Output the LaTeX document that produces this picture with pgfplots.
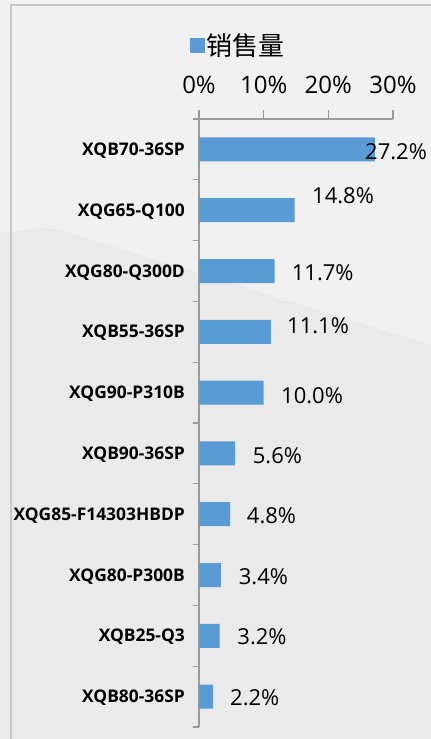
\documentclass[border=0pt]{standalone}
\usepackage{fontspec}
\setmainfont{Open Sans}
\newfontfamily\cjk{Noto Sans CJK SC}
\usepackage{pgfplots}
\pgfplotsset{compat=1.18}
\definecolor{barblue}{HTML}{5B9BD5}
\definecolor{axgray}{HTML}{9A9A9A}
\definecolor{bglight}{HTML}{F1F1F1}
\definecolor{bgdark}{HTML}{EAEAEA}
\definecolor{framegray}{HTML}{C8C8C8}
\begin{document}
\begin{tikzpicture}
% background (axis box lower-left sits at the origin)
\fill[bglight] (-199bp,-12bp) rectangle (232bp,727bp);
\fill[bgdark] (-199bp,494bp) -- (-149bp,500bp) -- (232bp,382bp) -- (232bp,-12bp) -- (-199bp,-12bp) -- cycle;
\draw[framegray,line width=1.2bp] (-188bp,-12bp) -- (-188bp,722bp) -- (232bp,722bp);
\begin{axis}[
  scale only axis,width=194bp,height=608bp,
  xbar,bar width=24bp,
  xmin=0,xmax=30,ymin=-0.5,ymax=9.5,y dir=reverse,
  axis x line*=top,axis y line*=left,
  axis line style={axgray,line width=1.1bp},
  xtick={0,10,20,30},xticklabels={0\%,10\%,20\%,30\%},
  ytick={0,...,9},
  yticklabels={XQB70-36SP,XQG65-Q100,XQG80-Q300D,XQB55-36SP,XQG90-P310B,XQB90-36SP,XQG85-F14303HBDP,XQG80-P300B,XQB25-Q3,XQB80-36SP},
  minor ytick={-0.5,0.5,...,9.5},
  tick align=outside,
  major tick length=9bp,minor tick length=6bp,
  major x tick style={axgray,line width=1.1bp},
  major y tick style={draw=none},
  minor y tick style={axgray,line width=1.1bp},
  xticklabel style={font=\fontsize{24bp}{28bp}\selectfont,anchor=base,yshift=17bp},
  yticklabel style={font=\fontsize{17.4bp}{20bp}\selectfont\bfseries,anchor=base east,yshift=-6bp,inner sep=0pt,xshift=-5bp},
  clip=false,
  legend style={at={(axis description cs:0.2036,1.1217)},anchor=center,draw=none,fill=none,
    font=\cjk\fontsize{26bp}{30bp}\selectfont,inner sep=0pt},
  legend image code/.code={\fill[barblue] (0bp,-7.5bp) rectangle (15bp,7.5bp);},
]
\addplot[fill=barblue,draw=none] coordinates {
(27.2,0) (14.8,1) (11.7,2) (11.1,3) (10.0,4) (5.6,5) (4.8,6) (3.4,7) (3.2,8) (2.2,9)};
\addlegendentry{销售量}
\begin{scope}[every node/.style={anchor=base west,inner sep=0pt,font=\fontsize{22bp}{26bp}\selectfont}]
\node at (axis cs:25.67,0.158) {27.2\%};
\node at (axis cs:17.47,0.882) {14.8\%};
\node at (axis cs:14.33,2.164) {11.7\%};
\node at (axis cs:13.61,3.02) {11.1\%};
\node at (axis cs:12.68,4.171) {10.0\%};
\node at (axis cs:8.30,5.158) {5.6\%};
\node at (axis cs:7.38,6.161) {4.8\%};
\node at (axis cs:6.14,7.148) {3.4\%};
\node at (axis cs:5.92,8.151) {3.2\%};
\node at (axis cs:4.79,9.154) {2.2\%};
\end{scope}
\end{axis}
\pgfresetboundingbox
\path (-199bp,-12bp) rectangle (232bp,727bp);
\end{tikzpicture}
\end{document}
